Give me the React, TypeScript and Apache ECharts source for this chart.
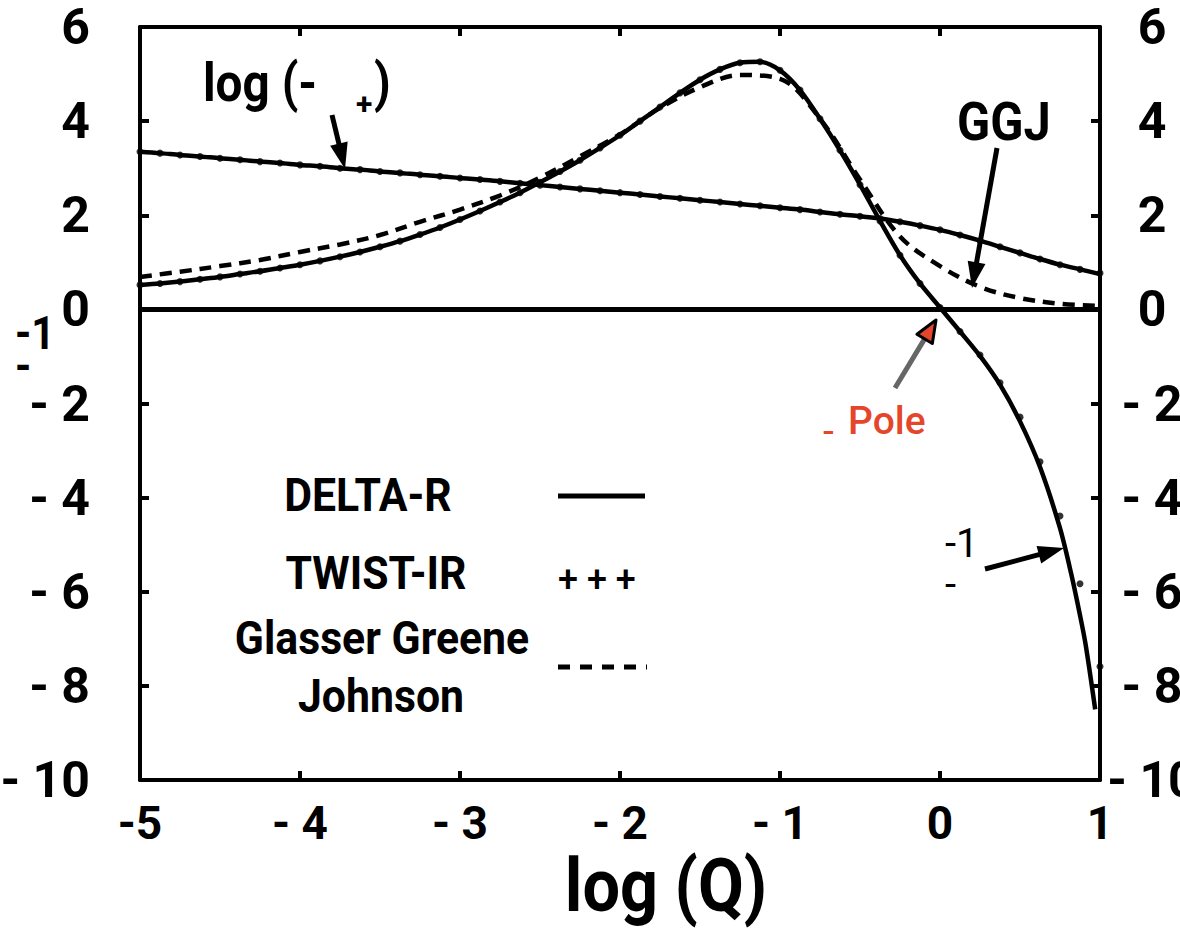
import React, { useEffect, useRef } from "react";
import * as echarts from "echarts";

// log(Q) sampling grid shared by the DELTA-R and TWIST-IR curves
const logQ = [
  -5, -4.875, -4.75, -4.625, -4.5, -4.375, -4.25, -4.125, -4, -3.875, -3.75, -3.625, -3.5, -3.375,
  -3.25, -3.125, -3, -2.875, -2.75, -2.625, -2.5, -2.375, -2.25, -2.125, -2, -1.875, -1.75, -1.625,
  -1.5, -1.375, -1.25, -1.125, -1, -0.875, -0.75, -0.625, -0.5, -0.375, -0.25, -0.125, 0, 0.125,
  0.25, 0.375, 0.5, 0.625, 0.75, 0.875, 1,
];

// log(-psi+) : slowly falling curve
const deltaLogPsi = [
  3.35, 3.32, 3.28, 3.25, 3.21, 3.18, 3.14, 3.11, 3.07, 3.04, 3.0, 2.97, 2.93, 2.9, 2.86, 2.83,
  2.79, 2.76, 2.72, 2.68, 2.64, 2.6, 2.56, 2.52, 2.48, 2.44, 2.4, 2.36, 2.32, 2.28, 2.24, 2.2, 2.16,
  2.12, 2.07, 2.02, 1.98, 1.93, 1.86, 1.78, 1.69, 1.58, 1.46, 1.33, 1.2, 1.07, 0.95, 0.85, 0.75,
];
const twistLogPsi = [
  3.35, 3.32, 3.28, 3.25, 3.21, 3.18, 3.14, 3.11, 3.07, 3.04, 3.0, 2.97, 2.93, 2.9, 2.86, 2.83,
  2.79, 2.76, 2.72, 2.68, 2.64, 2.6, 2.56, 2.52, 2.48, 2.44, 2.4, 2.36, 2.32, 2.28, 2.24, 2.2, 2.16,
  2.12, 2.07, 2.02, 1.98, 1.93, 1.86, 1.78, 1.69, 1.58, 1.46, 1.33, 1.2, 1.07, 0.95, 0.85, 0.77,
];

// psi^-1 : peaked curve through the pole
const deltaPeakQ = [
  -5, -4.875, -4.75, -4.625, -4.5, -4.375, -4.25, -4.125, -4, -3.875, -3.75, -3.625, -3.5, -3.375,
  -3.25, -3.125, -3, -2.875, -2.75, -2.625, -2.5, -2.375, -2.25, -2.125, -2, -1.875, -1.75, -1.625,
  -1.5, -1.375, -1.25, -1.125, -1, -0.875, -0.75, -0.625, -0.5, -0.375, -0.25, -0.125, 0, 0.125,
  0.25, 0.375, 0.5, 0.625, 0.75, 0.82, 0.875, 0.91, 0.97,
];
const deltaPeak = [
  0.52, 0.55, 0.59, 0.64, 0.69, 0.75, 0.81, 0.88, 0.95, 1.03, 1.12, 1.22, 1.33, 1.45, 1.59, 1.74,
  1.91, 2.09, 2.28, 2.48, 2.7, 2.93, 3.17, 3.43, 3.7, 4.0, 4.3, 4.6, 4.88, 5.1, 5.24, 5.26, 5.08,
  4.66, 4.05, 3.38, 2.65, 1.88, 1.15, 0.55, 0.04, -0.47, -0.99, -1.6, -2.38, -3.35, -4.65, -5.62,
  -6.5, -7.12, -8.5,
];
const twistPeak = [
  0.52, 0.55, 0.59, 0.64, 0.69, 0.75, 0.81, 0.88, 0.95, 1.03, 1.12, 1.22, 1.33, 1.45, 1.59, 1.74,
  1.91, 2.09, 2.28, 2.48, 2.7, 2.93, 3.17, 3.43, 3.7, 4.0, 4.3, 4.6, 4.88, 5.1, 5.24, 5.26, 5.08,
  4.66, 4.05, 3.38, 2.65, 1.88, 1.15, 0.55, 0.04, -0.47, -0.97, -1.56, -2.29, -3.24, -4.39, -5.83,
  -7.59,
];

// Glasser Greene Johnson
const ggjQ = [
  -5, -4.75, -4.5, -4.25, -4, -3.75, -3.5, -3.25, -3, -2.75, -2.5, -2.25, -2, -1.75, -1.5, -1.25,
  -1, -0.75, -0.5, -0.25, 0, 0.25, 0.5, 0.75, 1,
];
const ggjVal = [
  0.69, 0.8, 0.92, 1.05, 1.22, 1.38, 1.58, 1.86, 2.12, 2.42, 2.8, 3.25, 3.72, 4.28, 4.72, 4.98,
  4.9, 4.05, 2.76, 1.55, 0.92, 0.48, 0.24, 0.12, 0.07,
];

const xTickLabels: Record<string, string> = {
  "-5": "-5", "-4": "- 4", "-3": "- 3", "-2": "- 2", "-1": "- 1", "0": "0", "1": "1",
};
const yTickLabels: Record<string, string> = {
  "-10": "- 10", "-8": "- 8", "-6": "- 6", "-4": "- 4", "-2": "- 2",
  "0": "0", "2": "2", "4": "4", "6": "6",
};

const FONT = 'Roboto, "Liberation Sans", Arial, sans-serif';

const pairs = (xs: number[], ys: number[]) => xs.map((x, i) => [x, ys[i]]);

function arrow(
  x1: number, y1: number, x2: number, y2: number,
  headLen: number, headW: number, lineColor: string, headFill: string, headStroke?: string,
) {
  const dx = x2 - x1;
  const dy = y2 - y1;
  const L = Math.sqrt(dx * dx + dy * dy);
  const ux = dx / L;
  const uy = dy / L;
  const bx = x2 - ux * headLen;
  const by = y2 - uy * headLen;
  const nx = -uy;
  const ny = ux;
  return [
    {
      type: "line",
      shape: { x1, y1, x2: bx + ux * 2, y2: by + uy * 2 },
      style: { stroke: lineColor, lineWidth: 5 },
    },
    {
      type: "polygon",
      shape: {
        points: [
          [x2, y2],
          [bx + (nx * headW) / 2, by + (ny * headW) / 2],
          [bx - (nx * headW) / 2, by - (ny * headW) / 2],
        ],
      },
      style: headStroke
        ? { fill: headFill, stroke: headStroke, lineWidth: 3, lineJoin: "round" }
        : { fill: headFill },
    },
  ];
}

function txt(text: string, x: number, y: number, size: number, opts: any = {}) {
  return {
    type: "text",
    x,
    y,
    scaleX: opts.scaleX ?? 1,
    style: {
      text,
      x: 0,
      y: 0,
      fontSize: size,
      fontWeight: opts.weight ?? "bold",
      fontFamily: FONT,
      fill: opts.color ?? "#000",
      align: opts.align ?? "left",
      verticalAlign: "middle",
    },
  };
}

export default function App() {
  const ref = useRef<HTMLDivElement>(null);

  useEffect(() => {
    if (!ref.current) return;
    const chart = echarts.init(ref.current, null, { renderer: "svg" });

    const axisLine = { show: true, onZero: false, lineStyle: { color: "#000", width: 4 } };
    const axisTick = { show: true, inside: true, length: 9, lineStyle: { color: "#000", width: 4 } };
    const yLabel = {
      fontSize: 50,
      fontWeight: "bold",
      fontFamily: FONT,
      color: "#000",
      formatter: (v: number) => yTickLabels[String(v)] ?? "",
    };

    chart.setOption({
      animation: false,
      backgroundColor: "#fff",
      grid: {
        left: 140,
        right: 80,
        top: 27,
        bottom: 150,
        containLabel: false,
        outerBoundsMode: "none",
      },
      xAxis: [
        {
          type: "value",
          position: "bottom",
          min: -5,
          max: 1,
          interval: 1,
          axisLine,
          axisTick,
          splitLine: { show: false },
          axisLabel: {
            fontSize: 46,
            fontWeight: "bold",
            fontFamily: FONT,
            color: "#000",
            margin: 20,
            formatter: (v: number) => xTickLabels[String(v)] ?? "",
          },
        },
        {
          type: "value",
          position: "top",
          min: -5,
          max: 1,
          interval: 1,
          axisLine,
          axisTick,
          splitLine: { show: false },
          axisLabel: { show: false },
        },
      ],
      yAxis: [
        {
          type: "value",
          position: "left",
          min: -10,
          max: 6,
          interval: 2,
          axisLine,
          axisTick,
          splitLine: { show: false },
          axisLabel: { ...yLabel, margin: 50 },
        },
        {
          type: "value",
          position: "right",
          min: -10,
          max: 6,
          interval: 2,
          axisLine,
          axisTick,
          splitLine: { show: false },
          axisLabel: { ...yLabel, margin: 52, align: "center" },
        },
      ],
      series: [
        {
          name: "DELTA-R log",
          type: "line",
          data: pairs(logQ, deltaLogPsi),
          smooth: 0.3,
          symbol: "none",
          lineStyle: { color: "#000", width: 4.5 },
          markLine: {
            silent: true,
            symbol: "none",
            label: { show: false },
            lineStyle: { color: "#000", width: 5, type: "solid" },
            data: [{ yAxis: 0 }],
          },
        },
        {
          name: "DELTA-R",
          type: "line",
          data: pairs(deltaPeakQ, deltaPeak),
          smooth: 0.3,
          symbol: "none",
          lineStyle: { color: "#000", width: 4.5 },
        },
        {
          name: "Glasser Greene Johnson",
          type: "line",
          data: pairs(ggjQ, ggjVal),
          smooth: 0.35,
          symbol: "none",
          lineStyle: { color: "#000", width: 4.5, type: [12, 8], cap: "butt" },
        },
        {
          name: "TWIST-IR log",
          type: "scatter",
          data: pairs(logQ, twistLogPsi),
          symbol: "circle",
          symbolSize: 7,
          itemStyle: { color: "#000" },
        },
        {
          name: "TWIST-IR",
          type: "scatter",
          data: pairs(logQ, twistPeak),
          symbol: "circle",
          symbolSize: 7,
          itemStyle: { color: "#000" },
        },
      ],
      graphic: [
        // axis title
        txt("log (Q)", 666, 886, 74, { align: "center", scaleX: 0.9 }),
        // y-axis label remnants
        txt("-1", 15, 333, 46, { scaleX: 0.9 }),
        txt("-", 15, 366, 46, { scaleX: 0.9 }),
        // curve annotations
        txt("log (-", 203, 83, 53, { scaleX: 0.9 }),
        txt("+", 356, 103, 30),
        txt(")", 374, 83, 53, { scaleX: 0.9 }),
        ...arrow(332, 115, 345, 169, 26, 18, "#000", "#000"),
        txt("GGJ", 957, 122, 53, { scaleX: 0.92 }),
        ...arrow(997, 148, 972, 288, 26, 18, "#000", "#000"),
        txt("-", 823, 431, 39, { weight: "normal", color: "#e5462b" }),
        txt("Pole", 848, 421, 39, { weight: "500", color: "#e5462b" }),
        ...arrow(895, 388, 936, 320, 22, 18, "#666", "#e5462b", "#000"),
        txt("-1", 945, 543, 40, { weight: "normal" }),
        txt("-", 945, 584, 40, { weight: "normal" }),
        ...arrow(985, 569, 1064, 548, 26, 18, "#000", "#000"),
        // legend
        txt("DELTA-R", 368, 495, 46, { align: "center", scaleX: 0.93 }),
        {
          type: "line",
          shape: { x1: 558, y1: 496, x2: 645, y2: 496 },
          style: { stroke: "#000", lineWidth: 5 },
        },
        txt("TWIST-IR", 376, 573, 46, { align: "center", scaleX: 0.93 }),
        txt("+ + +", 558, 580, 36, { weight: "500" }),
        txt("Glasser Greene", 382, 638, 46, { align: "center", scaleX: 0.93 }),
        txt("Johnson", 381, 696, 46, { align: "center", scaleX: 0.93 }),
        {
          type: "line",
          shape: { x1: 558, y1: 667, x2: 647, y2: 667 },
          style: { stroke: "#000", lineWidth: 5, lineDash: [12, 10] },
        },
      ],
    });

    return () => chart.dispose();
  }, []);

  return (
    <div
      ref={ref}
      style={{ position: "absolute", left: 0, top: 0, width: 1180, height: 930, background: "#fff" }}
    />
  );
}
